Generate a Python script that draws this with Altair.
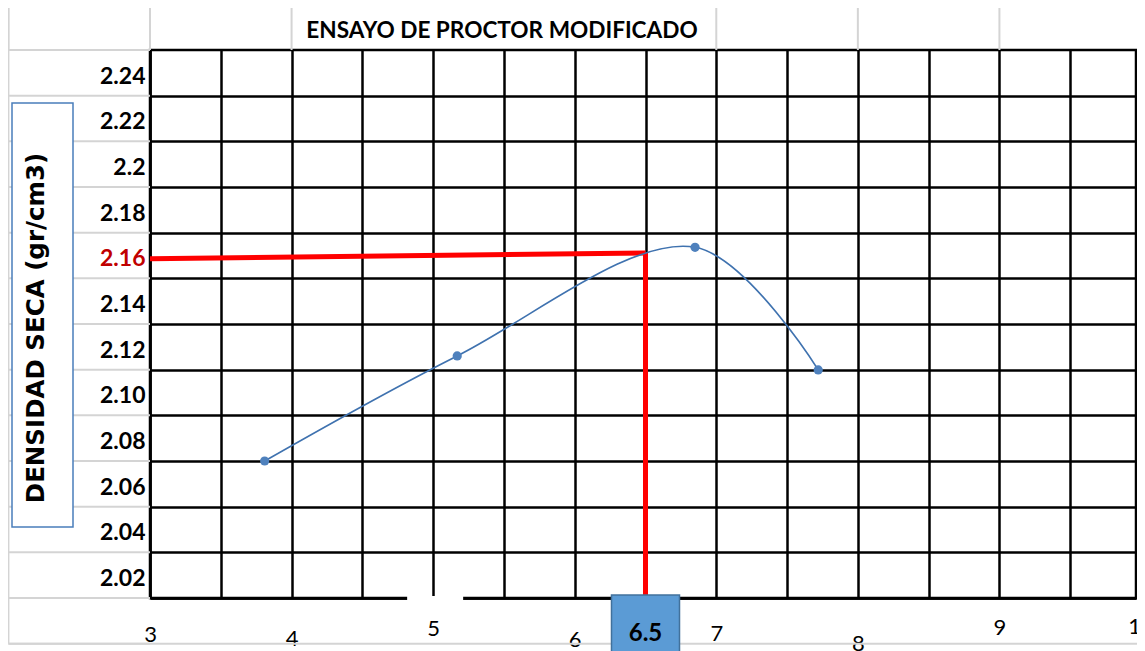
import altair as alt
import pandas as pd

# ---------------- data ----------------
moisture = [3.81, 5.17, 6.85, 7.72]          # % humedad
density = [2.0714, 2.1174, 2.1650, 2.1113]   # densidad seca (gr/cm3)

opt_moisture = 6.5        # optimum moisture content marked in red
mdd_axis_level = 2.16     # red line start on the density axis
mdd_curve_level = 2.1625  # red line end, on the curve

y_tick_values = [2.02, 2.04, 2.06, 2.08, 2.10, 2.12, 2.14, 2.16, 2.18, 2.20, 2.22, 2.24]
y_tick_labels = ["2.02", "2.04", "2.06", "2.08", "2.10", "2.12", "2.14", "2.16", "2.18", "2.2", "2.22", "2.24"]
x_tick_labels = [3, 4, 5, 6, 7, 8, 9, 10]
x_grid_values = [3, 3.5, 4, 4.5, 5, 5.5, 6, 6.5, 7, 7.5, 8, 8.5, 9, 9.5]

title_text = "ENSAYO DE PROCTOR MODIFICADO"
y_title_text = "DENSIDAD SECA (gr/cm3)"
opt_label = "6.5"

# ---------------- scales ----------------
PX_PER_UNIT = 991 / 7.0           # horizontal pixels per 1 % moisture
PLOT_W, PLOT_H = 986, 548         # page is 1145 px wide: keep the svg inside it
X_DOMAIN = [3, 3 + PLOT_W / PX_PER_UNIT]
Y_DOMAIN = [2.0114, 2.2514]
ROW = 0.02
row_px = PLOT_H / ((Y_DOMAIN[1] - Y_DOMAIN[0]) / ROW)
grid_shift = (y_tick_values[-1] - (Y_DOMAIN[1] - ROW)) / ROW * row_px

xs = alt.Scale(domain=X_DOMAIN, nice=False, zero=False)
ys = alt.Scale(domain=Y_DOMAIN, nice=False, zero=False)

keys = ",".join("'%.2f'" % v for v in y_tick_values)
texts = ",".join("'%s'" % t for t in y_tick_labels)
y_label_expr = "[%s][indexof([%s], format(datum.value, '.2f'))]" % (texts, keys)

x_pad = {3: 26, 4: 30, 5: 20, 6: 31, 7: 25, 8: 35, 9: 19, 10: 19}
pad_expr = " : ".join("datum.value == %d ? %d" % (k, v) for k, v in x_pad.items()) + " : 20"

x_axis = alt.Axis(
    values=x_grid_values, grid=True, gridColor="black", gridWidth=2.5, gridOpacity=1,
    ticks=False, domain=True, domainColor="black", domainWidth=2.5,
    labelExpr="datum.value % 1 == 0 ? format(datum.value, 'd') : ''",
    labelFont="Lato", labelFontSize=22, labelColor="black", labelFlush=False,
    labelOverlap=False, labelBaseline="top", labelPadding={"expr": pad_expr},
    title=None, zindex=0,
)
y_axis = alt.Axis(
    values=y_tick_values, grid=True, gridColor="black", gridWidth=2.5, gridOpacity=1,
    tickOffset=grid_shift, labelOffset=-grid_shift,
    ticks=False, domain=True, domainColor="black", domainWidth=2.5,
    labelExpr=y_label_expr, labelFont="Lato", labelFontSize=23, labelFontWeight="bold",
    labelColor={"condition": {"test": "abs(datum.value - 2.16) < 0.001", "value": "#c00000"}, "value": "black"},
    labelPadding=5, labelFlush=False, labelOverlap=False, title=None, zindex=0,
)


def X(field):
    return alt.X(field, type="quantitative", scale=xs, axis=x_axis)


def Y(field):
    return alt.Y(field, type="quantitative", scale=ys, axis=y_axis)


# ---------------- spreadsheet background lines ----------------
sheet_left, sheet_right = 2, 10.05
row_lines = [Y_DOMAIN[1] + ROW * (1 - k) for k in range(15)]
segs = []
segs.append(dict(x=sheet_left, x2=sheet_right, y=row_lines[0], y2=row_lines[0]))
segs.append(dict(x=sheet_left, x2=sheet_right, y=row_lines[-1], y2=row_lines[-1]))
for r in row_lines:
    segs.append(dict(x=sheet_left, x2=X_DOMAIN[0], y=r, y2=r))
for c in [2, 3, 4, 7, 8, 9]:
    segs.append(dict(x=c, x2=c, y=row_lines[0], y2=row_lines[1]))
segs.append(dict(x=sheet_left, x2=sheet_left, y=row_lines[0], y2=row_lines[-1]))
sheet_df = pd.DataFrame(segs)

sheet = alt.Chart(sheet_df).mark_rule(color="#d4d4d4", strokeWidth=2).encode(
    x=X("x"), x2="x2", y=Y("y"), y2="y2"
)

# ---------------- y title box ----------------
ybox = alt.Chart(pd.DataFrame({"t": [y_title_text]})).mark_rect(
    fill="white", stroke="#4a7ebb", strokeWidth=1.5
).encode(x=alt.value(-138), x2=alt.value(-77), y=alt.value(53), y2=alt.value(477))

ytext = alt.Chart(pd.DataFrame({"t": [y_title_text]})).mark_text(
    angle=270, align="center", baseline="alphabetic", font="DejaVu Sans",
    fontWeight="bold", fontSize=24.5, color="black"
).encode(text="t:N", x=alt.value(-106), y=alt.value(278))

# ---------------- title ----------------
title = alt.Chart(pd.DataFrame({"t": [title_text]})).mark_text(
    align="center", baseline="alphabetic", font="Lato", fontWeight="bold",
    fontSize=22.6, color="black"
).encode(text="t:N", x=alt.value(352), y=alt.value(-12))

# ---------------- last x label, partly beyond the page edge ----------------
last_df = pd.DataFrame({"w": [x_tick_labels[-1]], "t": [str(x_tick_labels[-1])]})
last_label = alt.Chart(last_df).mark_text(
    align="center", baseline="top", font="Lato", fontSize=22, color="black"
).encode(x=X("w"), text="t:N", y=alt.value(PLOT_H + x_pad[10]))

# ---------------- red guide lines ----------------
red_df = pd.DataFrame([
    dict(x=X_DOMAIN[0], x2=opt_moisture, y=mdd_axis_level, y2=mdd_curve_level),
    dict(x=opt_moisture, x2=opt_moisture, y=mdd_curve_level, y2=Y_DOMAIN[0]),
])
red = alt.Chart(red_df).mark_rule(color="#ff0000", strokeWidth=5).encode(
    x=X("x"), x2="x2", y=Y("y"), y2="y2"
)

# ---------------- curve and points ----------------
pts_df = pd.DataFrame({"w": moisture, "d": density})
curve = alt.Chart(pts_df).mark_line(
    interpolate="catmull-rom", color="#3f72af", strokeWidth=1.7
).encode(x=X("w"), y=Y("d"))
points = alt.Chart(pts_df).mark_point(
    filled=True, shape="circle", size=85, color="#4f81bd", opacity=1
).encode(x=X("w"), y=Y("d"))

# ---------------- gap in the x axis line near 5 ----------------
gap = alt.Chart(pd.DataFrame({"g": [5]})).mark_rect(
    fill="white", xOffset=-26, x2Offset=30
).encode(x=X("g"), x2="g", y=alt.value(PLOT_H - 2), y2=alt.value(PLOT_H + 3))

# ---------------- 6.5 box ----------------
opt_df = pd.DataFrame({"w": [opt_moisture], "t": [opt_label]})
opt_box = alt.Chart(opt_df).mark_rect(
    fill="#5b9bd5", stroke="#41719c", strokeWidth=1.5, xOffset=-34, x2Offset=34
).encode(x=X("w"), x2="w", y=alt.value(PLOT_H - 3), y2=alt.value(PLOT_H + 70))
opt_text = alt.Chart(opt_df).mark_text(
    align="center", baseline="alphabetic", font="Lato", fontWeight="bold",
    fontSize=24, color="black"
).encode(x=X("w"), text="t:N", y=alt.value(PLOT_H + 43))

chart = alt.layer(
    sheet, ybox, ytext, title, last_label, red, curve, points, gap, opt_box, opt_text
).properties(
    width=PLOT_W, height=PLOT_H,
    padding={"left": 142, "top": 42, "right": 1, "bottom": 53},
    autosize="none", background="white",
).configure_view(stroke="black", strokeWidth=2.5)

chart.save("out.html", embed_options={"renderer": "svg", "actions": False})
